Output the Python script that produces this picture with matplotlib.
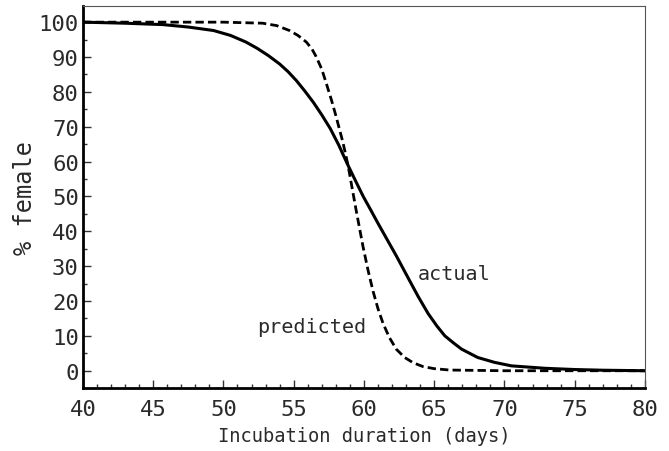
import matplotlib
matplotlib.use('Agg')
import matplotlib.pyplot as plt
from matplotlib.ticker import MultipleLocator

# values
actual_days = [40, 43, 45.7, 47.5, 49.3, 50.5, 51.6, 52.4, 53.2, 54.0, 54.6, 55.2,
               55.8, 56.4, 57.0, 57.6, 58.2, 58.8, 59.4, 59.95, 60.5, 61.0, 61.6,
               62.3, 63.15, 63.86, 64.57, 65.2, 65.76, 66.4, 66.95, 68.1, 69.3,
               70.5, 72.9, 75, 77, 80]
actual_pct = [100, 99.7, 99.3, 98.6, 97.6, 96.2, 94.3, 92.5, 90.4, 88.0, 85.8, 83.2,
              80.2, 77.0, 73.4, 69.5, 64.8, 59.5, 54.5, 50.0, 46.0, 42.3, 38.0,
              33.0, 26.6, 21.3, 16.4, 12.8, 10.0, 7.9, 6.2, 3.8, 2.4,
              1.4, 0.7, 0.35, 0.15, 0.0]

pred_days = [40, 50, 52.8, 53.8, 54.7, 55.3, 55.9, 56.3, 56.6, 57.0, 57.3, 57.7,
             58.0, 58.5, 58.87, 59.2, 59.47, 59.94, 60.3, 60.65, 61.0, 61.36,
             61.8, 62.3, 62.9, 63.5, 64.2, 65.0, 66.1, 70, 80]
pred_pct = [100, 100, 99.7, 99.0, 97.6, 96.2, 94.3, 92.3, 90.1, 86.5, 82.7, 77.5,
            73.2, 65.6, 58.9, 51.5, 45.5, 35.5, 28.7, 22.8, 17.8, 13.6,
            9.6, 6.2, 3.8, 2.3, 1.2, 0.6, 0.2, 0.0, 0.0]

plt.rcParams['font.family'] = ['DejaVu Sans Mono']
txt = '#2a2a2a'

fig = plt.figure(figsize=(6.69, 4.52), dpi=100)
ax = fig.add_axes([0.124, 0.139, 0.84, 0.846])

ax.plot(actual_days, actual_pct, color='black', lw=2.2,
        solid_joinstyle='round', solid_capstyle='butt')
ax.plot(pred_days, pred_pct, color='black', lw=2.0, ls=(0, (3.0, 1.5)),
        dash_joinstyle='round')

ax.text(66.4, 27.8, 'actual', fontsize=14.5, color=txt, ha='center', va='center')
ax.text(56.3, 12.8, 'predicted', fontsize=14.5, color=txt, ha='center', va='center')

ax.set_xlim(40, 80)
ax.set_ylim(-5, 104.7)
ax.xaxis.set_major_locator(MultipleLocator(5))
ax.xaxis.set_minor_locator(MultipleLocator(1))
ax.yaxis.set_major_locator(MultipleLocator(10))
ax.yaxis.set_minor_locator(MultipleLocator(5))
ax.tick_params(which='both', direction='in', top=False, right=False,
               labelsize=16, labelcolor=txt, color='#333333')
ax.tick_params(which='major', length=6, width=1)
ax.tick_params(which='minor', length=3, width=1)
ax.tick_params(axis='x', which='major', pad=8)
ax.tick_params(axis='y', which='major', pad=3)

for s in ['left', 'bottom']:
    ax.spines[s].set_linewidth(2)
for s in ['top', 'right']:
    ax.spines[s].set_linewidth(0.8)
    ax.spines[s].set_color('#555555')

ax.set_xlabel('Incubation duration (days)', fontsize=13.5, color=txt, labelpad=5)
ax.set_ylabel('% female', fontsize=17, color=txt, labelpad=1.5)

fig.savefig('out.png', dpi=100)
